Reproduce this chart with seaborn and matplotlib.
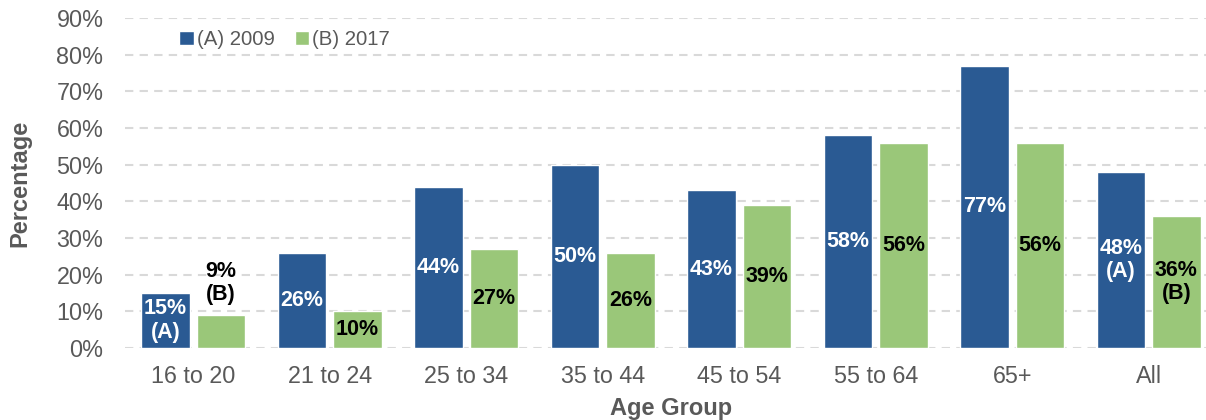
import matplotlib
matplotlib.use("Agg")
import matplotlib.pyplot as plt
import seaborn as sns
import pandas as pd

# Share of each age group, 2009 vs 2017 (percent)
age_groups = ["16 to 20", "21 to 24", "25 to 34", "35 to 44",
              "45 to 54", "55 to 64", "65+", "All"]
pct_2009 = [15, 26, 44, 50, 43, 58, 77, 48]
pct_2017 = [9, 10, 27, 26, 39, 56, 56, 36]
series_names = ["(A) 2009", "(B) 2017"]
tag_2009 = ["(A)", "", "", "", "", "", "", "(A)"]
tag_2017 = ["(B)", "", "", "", "", "", "", "(B)"]
y_ticks = [0, 10, 20, 30, 40, 50, 60, 70, 80, 90]

BLUE = "#2A5A93"
GREEN = "#9AC779"
GRAY = "#595959"

df = pd.DataFrame({
    "Age Group": age_groups * 2,
    "Percentage": pct_2009 + pct_2017,
    "Series": [series_names[0]] * len(age_groups) + [series_names[1]] * len(age_groups),
})

sns.set_style("white")
plt.rcParams["font.family"] = ["Liberation Sans", "DejaVu Sans"]

W, H = 1206, 420
fig = plt.figure(figsize=(W / 100, H / 100), dpi=100)
left, right, top, bottom = 125, 1217, 18, 348
ax = fig.add_axes([left / W, 1 - bottom / H, (right - left) / W, (bottom - top) / H])

sns.barplot(data=df, x="Age Group", y="Percentage", hue="Series",
            palette=[BLUE, GREEN], width=0.81, gap=0.12,
            saturation=1, ax=ax, zorder=3, legend=True)

ax.set_ylim(0, 90)
ax.set_xlim(-0.5, len(age_groups) - 0.5)
ax.set_yticks(y_ticks)
ax.set_yticklabels([f"{v}%" for v in y_ticks])
ax.tick_params(axis="both", length=0, labelsize=16.8, labelcolor=GRAY)
ax.tick_params(axis="y", pad=15.5)
ax.tick_params(axis="x", pad=12)
for s in ax.spines.values():
    s.set_visible(False)
ax.yaxis.grid(True, color="#D9D9D9", linestyle=(0, (4, 3)), linewidth=1.5, zorder=0)
ax.xaxis.grid(False)
ax.set_axisbelow(True)

ax.set_ylabel("Percentage", fontsize=17, fontweight="bold", color=GRAY)
ax.set_xlabel("Age Group", fontsize=17, fontweight="bold", color=GRAY, labelpad=7)
ax.yaxis.set_label_coords(-94 / (right - left), 0.5)

# Value labels
for cont, vals, tags, col in zip(ax.containers, [pct_2009, pct_2017],
                                 [tag_2009, tag_2017], ["white", "black"]):
    for bar, v, t in zip(cont, vals, tags):
        txt = f"{v}%" + (f"\n{t}" if t else "")
        cx = bar.get_x() + bar.get_width() / 2
        h = bar.get_height()
        if h < 12 and t:
            ax.annotate(txt, (cx, h), xytext=(0, 7), textcoords="offset points",
                        ha="center", va="bottom", color=col, fontsize=15.5,
                        fontweight="bold", linespacing=1.15, zorder=5)
        else:
            ax.text(cx, h / 2, txt, ha="center", va="center", color=col,
                    fontsize=15.5, fontweight="bold", linespacing=1.15, zorder=5)

leg = ax.legend(loc="upper left", bbox_to_anchor=(42 / (right - left), 1.0),
                ncol=2, frameon=False, fontsize=14.7, handlelength=0.7,
                handleheight=0.7, handletextpad=0.15, columnspacing=1.0,
                borderaxespad=0.2)
for t in leg.get_texts():
    t.set_color(GRAY)

fig.savefig("out.png", dpi=100)
